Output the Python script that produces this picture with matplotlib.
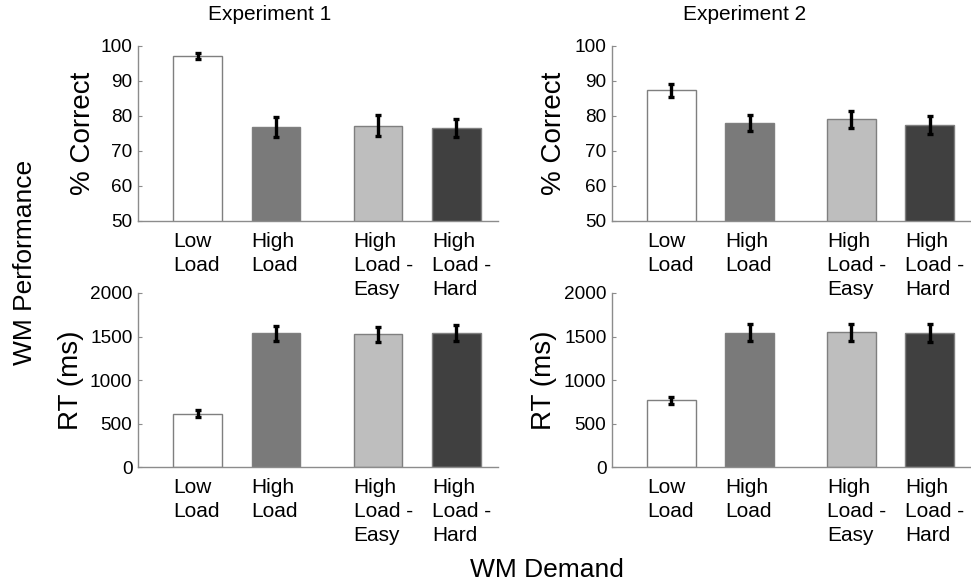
# -*- coding: utf-8 -*-
# WM performance bar charts for two experiments
import numpy as np
import matplotlib.pyplot as plt

plt.rcParams['font.family'] = ['Liberation Sans', 'DejaVu Sans']

conditions = ['Low\nLoad', 'High\nLoad', 'High\nLoad -\nEasy', 'High\nLoad -\nHard']

# accuracy (% correct) and error bars
exp1_acc = [97.2, 76.9, 77.2, 76.6]
exp1_acc_err = [0.9, 2.8, 3.0, 2.6]
exp2_acc = [87.3, 78.0, 79.0, 77.4]
exp2_acc_err = [1.8, 2.3, 2.3, 2.5]

# reaction time (ms) and error bars
exp1_rt = [613, 1536, 1525, 1540]
exp1_rt_err = [38, 82, 84, 88]
exp2_rt = [766, 1544, 1548, 1540]
exp2_rt_err = [38, 100, 100, 100]

bar_colors = ['white', '#7a7a7a', '#bebebe', '#404040']
xpos = np.array([1, 2, 3.3, 4.3])
width = 0.62
spine_col = '#8c8c8c'


def draw_panel(ax, vals, errs, ylim, yticks, ylabel, label_x):
    ax.patch.set_visible(False)  # so labels of the panel above show through
    ax.bar(xpos, vals, width, color=bar_colors, edgecolor='#7f7f7f',
           linewidth=1.0, zorder=2)
    ax.errorbar(xpos, vals, yerr=errs, fmt='none', ecolor='black',
                elinewidth=2.4, capsize=2.5, capthick=2.4, zorder=3)
    ax.set_xlim(0.24, 4.83)
    ax.set_ylim(*ylim)
    ax.set_yticks(yticks)
    ax.tick_params(axis='y', direction='in', length=3, color=spine_col,
                   labelsize=13.7, pad=4)
    # labels start at each bar's left edge
    ax.set_xticks(xpos - width / 2)
    ax.set_xticklabels(conditions, ha='left', fontsize=15, linespacing=1.32)
    ax.tick_params(axis='x', length=0, pad=8)
    for s in ['top', 'right']:
        ax.spines[s].set_visible(False)
    for s in ['left', 'bottom']:
        ax.spines[s].set_color(spine_col)
        ax.spines[s].set_linewidth(1.0)
    ax.set_ylabel(ylabel, fontsize=20)
    ax.yaxis.set_label_coords(label_x, 0.5)


fig = plt.figure(figsize=(9.71, 5.84), dpi=100)

ax1 = fig.add_axes([0.1421, 0.6216, 0.3708, 0.2997])
ax2 = fig.add_axes([0.6303, 0.6216, 0.3697, 0.2997])
ax3 = fig.add_axes([0.1421, 0.2003, 0.3708, 0.2980])
ax4 = fig.add_axes([0.6303, 0.2003, 0.3697, 0.2980])

draw_panel(ax1, exp1_acc, exp1_acc_err, (50, 100), range(50, 101, 10),
           '% Correct', -0.117)
draw_panel(ax2, exp2_acc, exp2_acc_err, (50, 100), range(50, 101, 10),
           '% Correct', -0.125)
draw_panel(ax3, exp1_rt, exp1_rt_err, (0, 2000), range(0, 2001, 500),
           'RT (ms)', -0.15)
draw_panel(ax4, exp2_rt, exp2_rt_err, (0, 2000), range(0, 2001, 500),
           'RT (ms)', -0.153)

fig.text(270 / 971, 1 - 14 / 584, 'Experiment 1', ha='center', va='center',
         fontsize=15)
fig.text(745 / 971, 1 - 14 / 584, 'Experiment 2', ha='center', va='center',
         fontsize=15)
fig.text(547 / 971, 1 - 570 / 584, 'WM Demand', ha='center', va='center',
         fontsize=19)
fig.text(25 / 971, 1 - 262 / 584, 'WM Performance', ha='center', va='center',
         rotation=90, fontsize=19)

plt.savefig('out.png', dpi=100)
